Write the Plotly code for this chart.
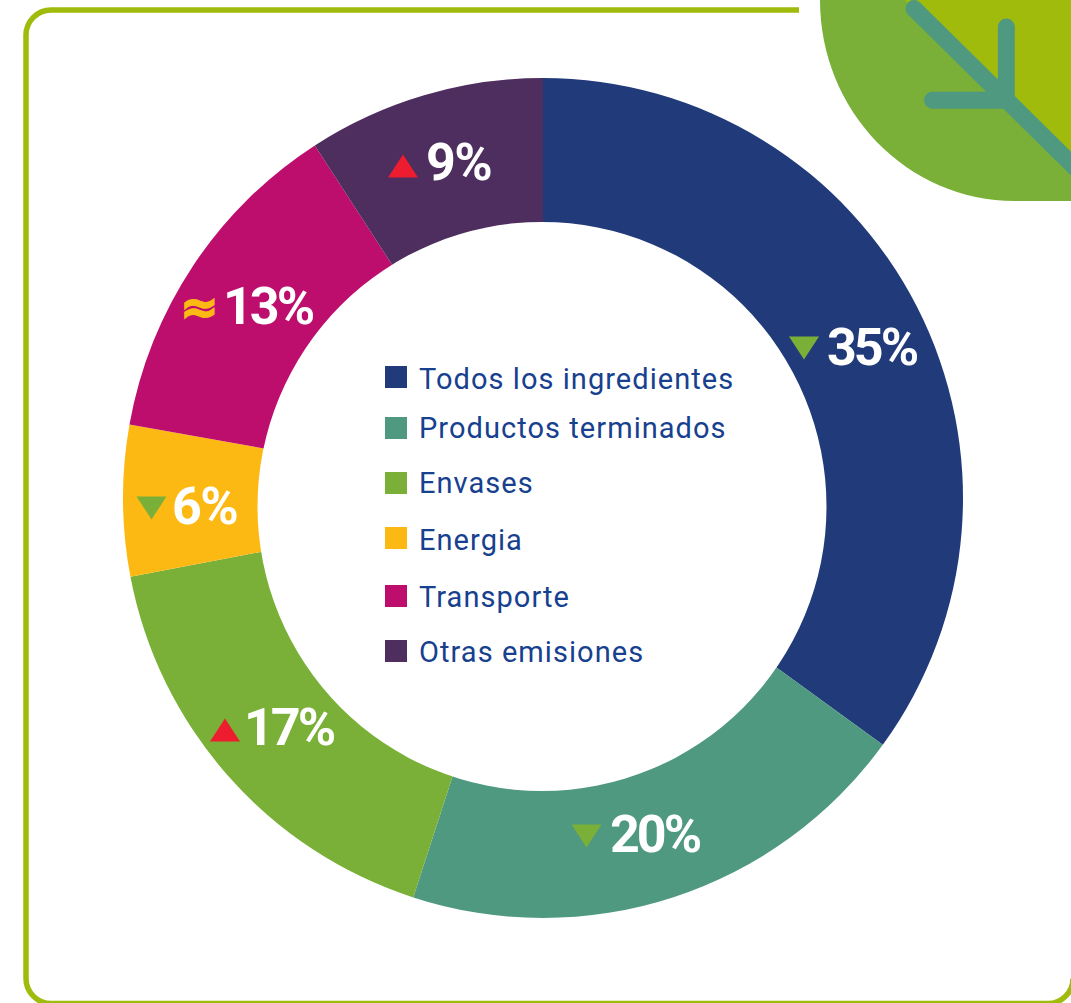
import plotly.graph_objects as go

categories = ["Todos los ingredientes", "Productos terminados", "Envases", "Energia", "Transporte", "Otras emisiones"]
labels_pct = [35, 20, 17, 6, 13, 9]
slice_shares = [35, 20, 17, 5.8, 13.06, 9.14]
trends = ["down", "down", "up", "down", "same", "up"]
colors = ["#213B7A", "#4F9980", "#7AB037", "#FDB913", "#BD0E6E", "#4D2E5E"]

W, H = 1071, 1003
OLIVE = "#A0BB0B"
GREEN = "#7AB037"
TEAL = "#4F9980"
RED = "#ED1C2E"
LEGEND_TEXT = "#17408F"
FONT = "Roboto"

def px(x):
    return x / W

def py(y):
    return 1 - y / H

def path(cmds):
    out = []
    for c in cmds:
        if isinstance(c, str):
            out.append(c)
        else:
            out.append(f"{px(c[0]):.5f},{py(c[1]):.5f}")
    return " ".join(out)

fig = go.Figure(go.Pie(
    labels=categories, values=slice_shares, sort=False, direction="clockwise", rotation=0,
    hole=0.5, textinfo="none", showlegend=False,
    marker=dict(colors=colors, line=dict(width=0)),
    domain=dict(x=[px(123), px(963)], y=[py(918), py(78)]),
))

shapes = []
annotations = []

def sh(cmds, **kw):
    shapes.append(dict(type="path", xref="paper", yref="paper", path=path(cmds), **kw))

# off-centre white hole of the ring
hx, hy, hr = 542, 506.5, 284.5
shapes.append(dict(type="circle", xref="paper", yref="paper", x0=px(hx - hr), x1=px(hx + hr),
                   y0=py(hy + hr), y1=py(hy - hr), fillcolor="white", line=dict(width=0)))

# frame
L, T, R, B, r = 26, 10, 1073, 1003.5, 25
k = 0.55 * r
sh(["M", (799, T), "L", (L + r, T), "C", (L + r - k, T), (L, T + r - k), (L, T + r),
    "L", (L, B - r), "C", (L, B - r + k), (L + r - k, B), (L + r, B),
    "L", (R - r, B), "C", (R - r + k, B), (R, B - r + k), (R, B - r)],
   line=dict(color=OLIVE, width=5.5), fillcolor="rgba(0,0,0,0)")

# leaf
sh(["M", (820, 0), "C", (820, 111), (907, 201), (1015, 201), "L", (1071, 201), "L", (1071, 0), "Z"],
   fillcolor=GREEN, line=dict(width=0))
sh(["M", (905, 0), "L", (1071, 0), "L", (1071, 164), "Z"], fillcolor=OLIVE, line=dict(width=0))
for seg in ([(914, 8.5), (1080, 172.5)], [(1006.3, 27), (1006.3, 100.3)], [(932.5, 100.3), (1006.3, 100.3)]):
    sh(["M", seg[0], "L", seg[1]], line=dict(color=TEAL, width=17))
    for p in seg:
        if p[0] < 1071:
            shapes.append(dict(type="circle", xref="paper", yref="paper",
                               x0=px(p[0] - 8.5), x1=px(p[0] + 8.5), y0=py(p[1] + 8.5), y1=py(p[1] - 8.5),
                               fillcolor=TEAL, line=dict(width=0)))

# legend
swatch_y = [377, 428, 483, 538, 596, 651]
legend_text_y = [379, 428, 483, 540, 597, 652]
for name, col, y, ty in zip(categories, colors, swatch_y, legend_text_y):
    shapes.append(dict(type="rect", xref="paper", yref="paper", x0=px(385), x1=px(407),
                       y0=py(y + 11), y1=py(y - 11), fillcolor=col, line=dict(width=0)))
    annotations.append(dict(x=px(416.5), y=py(ty), xref="paper", yref="paper", xanchor="left", yanchor="middle",
                            align="left", text=name, showarrow=False,
                            font=dict(family=FONT, size=29, color=LEGEND_TEXT)))

# value labels
label_pos = [(825, 347), (608, 834), (241.5, 727), (170, 506), (221, 306), (423.5, 163)]
mark_pos = [(804, 348), (586.5, 836), (225, 730), (151.5, 508), (199, 310), (403, 166)]
for v, t, (x, y), (mx, my) in zip(labels_pct, trends, label_pos, mark_pos):
    annotations.append(dict(x=px(x), y=py(y), xref="paper", yref="paper", xanchor="left", yanchor="middle",
                            align="left", text=f"<b>{v}%</b>", showarrow=False,
                            font=dict(family=FONT, size=52, color="white")))
    if t == "down":
        sh(["M", (mx - 15, my - 11.5), "L", (mx + 15, my - 11.5), "L", (mx, my + 11.5), "Z"],
           fillcolor=GREEN, line=dict(width=0))
    elif t == "up":
        sh(["M", (mx - 15, my + 11.5), "L", (mx + 15, my + 11.5), "L", (mx, my - 11.5), "Z"],
           fillcolor=RED, line=dict(width=0))
    else:
        annotations.append(dict(x=px(mx), y=py(my - 3), xref="paper", yref="paper", xanchor="center", yanchor="middle",
                                text="<b>≈</b>", showarrow=False,
                                font=dict(family="DejaVu Sans", size=46, color="#FDB913")))

fig.update_layout(width=W, height=H, margin=dict(l=0, r=0, t=0, b=0), paper_bgcolor="white",
                  shapes=shapes, annotations=annotations, showlegend=False)

post = """
document.body.style.margin='0';document.body.style.overflow='hidden';
document.querySelectorAll('.annotation-text').forEach(function(t){
  var s=t.textContent;
  if(s==='\\u2248'){t.style.stroke='#FDB913';t.style.strokeWidth='1.5px';}
  else if(s.indexOf('%')>=0){t.style.letterSpacing=(s.length>2?'-3px':'-1.5px');}
  else{t.style.letterSpacing='1.05px';}
});
"""
fig.write_html("out.html", config=dict(displayModeBar=False), post_script=post)
